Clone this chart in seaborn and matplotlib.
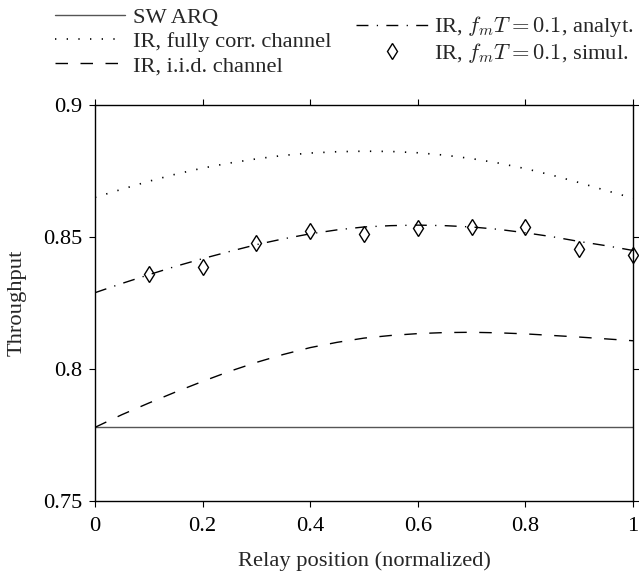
import matplotlib
matplotlib.use("Agg")
import matplotlib.pyplot as plt
import seaborn as sns

# --- data ---
pos = [0.0, 0.05, 0.1, 0.15, 0.2, 0.25, 0.3, 0.35, 0.4, 0.45, 0.5,
       0.55, 0.6, 0.65, 0.7, 0.75, 0.8, 0.85, 0.9, 0.95, 1.0]

sw_pos = [0.0, 1.0]
sw_arq = [0.778, 0.778]

ir_full_corr = [0.8649, 0.8680, 0.8710, 0.8737, 0.8760, 0.8779, 0.8795, 0.8808,
                0.8817, 0.8822, 0.8824, 0.8823, 0.8818, 0.8809, 0.8796, 0.8779,
                0.8758, 0.8733, 0.8705, 0.8675, 0.8646]

ir_iid = [0.7778, 0.7826, 0.7870, 0.7912, 0.7952, 0.7990, 0.8024, 0.8054,
          0.8080, 0.8100, 0.8116, 0.8126, 0.8133, 0.8137, 0.8138, 0.8136,
          0.8132, 0.8126, 0.8120, 0.8113, 0.8106]

ir_analyt = [0.8288, 0.8323, 0.8356, 0.8388, 0.8417, 0.8444, 0.8470, 0.8492,
             0.8511, 0.8526, 0.8537, 0.8542, 0.8544, 0.8542, 0.8537, 0.8528,
             0.8515, 0.8500, 0.8482, 0.8466, 0.8448]

sim_pos = [0.1, 0.2, 0.3, 0.4, 0.5, 0.6, 0.7, 0.8, 0.9, 1.0]
ir_simul = [0.8359, 0.8387, 0.8476, 0.8523, 0.8511, 0.8532, 0.8538, 0.8535, 0.8455, 0.8431]

x_ticks = [0, 0.2, 0.4, 0.6, 0.8, 1.0]
x_tick_labels = ["0", "0.2", "0.4", "0.6", "0.8", "1"]
y_ticks = [0.75, 0.8, 0.85, 0.9]
y_tick_labels = ["0.75", "0.8", "0.85", "0.9"]

# --- style ---
sns.set_theme(style="ticks")
plt.rcParams['font.family'] = ['Liberation Serif', 'DejaVu Serif']
plt.rcParams['mathtext.fontset'] = 'cm'
fs = 16.2
plt.rcParams['font.size'] = fs

fig = plt.figure(figsize=(6.39, 5.78), dpi=100)
ax = fig.add_axes([0.1487, 0.1337, 0.8419, 0.6851])

sns.lineplot(x=sw_pos, y=sw_arq, ax=ax, color="#555555", lw=1.0,
             label="SW ARQ")
sns.lineplot(x=pos, y=ir_full_corr, ax=ax, color="black", lw=1.2,
             linestyle=(0, (0.8, 6.2)), label="IR, fully corr. channel")
sns.lineplot(x=pos, y=ir_iid, ax=ax, color="black", lw=1.0,
             linestyle=(0, (9, 9)), label="IR, i.i.d. channel")
sns.lineplot(x=pos, y=ir_analyt, ax=ax, color="black", lw=1.0,
             linestyle=(0, (8.6, 6, 0.9, 6)), label=r"IR, $f_mT = 0.1$, analyt.")
sns.lineplot(x=sim_pos, y=ir_simul, ax=ax, color="black", lw=0,
             marker="d", markersize=8, markerfacecolor="none",
             markeredgecolor="black", markeredgewidth=1.0, clip_on=False,
             label=r"IR, $f_mT = 0.1$, simul.")

ax.set_xlim(0, 1)
ax.set_ylim(0.75, 0.9)
ax.set_xticks(x_ticks)
ax.set_xticklabels(x_tick_labels)
ax.set_yticks(y_ticks)
ax.set_yticklabels(y_tick_labels)
ax.tick_params(direction="out", length=4, width=0.8, labelsize=fs, pad=5,
               top=True, right=True, colors="black")
ax.tick_params(axis="x", pad=8)
for sp in ax.spines.values():
    sp.set_visible(True)
    sp.set_linewidth(1.0)
    sp.set_color("black")

ax.set_xlabel("Relay position (normalized)", fontsize=fs, labelpad=11)
ax.set_ylabel("Throughput", fontsize=fs, labelpad=12)

# --- two legends above the axes ---
handles, labels = ax.get_legend_handles_labels()
ax.get_legend().remove()

leg1 = fig.legend(handles[:3], labels[:3], loc="upper left",
                  bbox_to_anchor=(0.083, 0.992), frameon=False, fontsize=fs,
                  handlelength=3.1, handletextpad=0.35, labelspacing=0.16,
                  borderpad=0.1, borderaxespad=0)
leg2 = fig.legend(handles[3:], labels[3:], loc="upper left",
                  bbox_to_anchor=(0.553, 0.979), frameon=False, fontsize=fs,
                  handlelength=3.2, handletextpad=0.3, labelspacing=0.07,
                  borderpad=0.1, borderaxespad=0)

fig.savefig("out.png", dpi=100)
